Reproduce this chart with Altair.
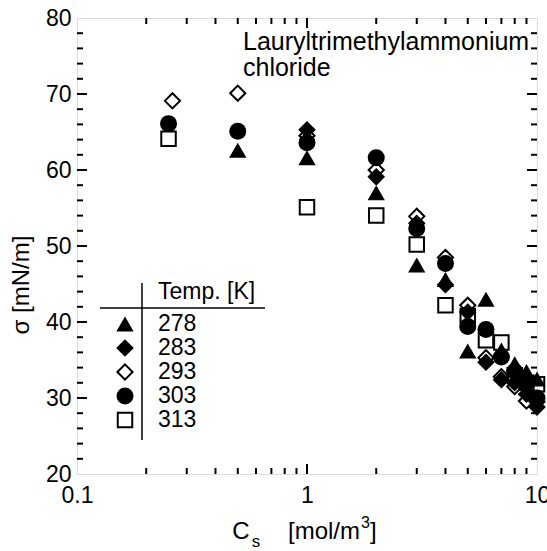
import altair as alt
import pandas as pd

# ---------------- data ----------------
temps = ["278", "283", "293", "303", "313"]

cs_278 = [0.5, 1, 2, 3, 4, 5, 6, 7, 8, 9, 10]
sg_278 = [62.6, 61.6, 57.0, 47.5, 45.6, 36.2, 43.0, 36.3, 34.5, 33.5, 32.5]

cs_283 = [1, 2, 3, 4, 5, 6, 7, 8, 9, 10]
sg_283 = [65.3, 59.1, 53.0, 44.9, 41.3, 34.7, 32.4, 32.0, 30.5, 28.8]

cs_293 = [0.26, 0.5, 1, 2, 3, 4, 5, 6, 7, 8, 9, 10]
sg_293 = [69.1, 70.1, 64.5, 60.0, 53.9, 48.5, 42.2, 35.3, 32.8, 31.5, 29.6, 29.5]

cs_303 = [0.25, 0.5, 1, 2, 3, 4, 5, 6, 7, 8, 9, 10]
sg_303 = [66.1, 65.1, 63.6, 61.6, 52.3, 47.7, 39.4, 39.0, 35.4, 33.5, 32.0, 30.0]

cs_313 = [0.25, 1, 2, 3, 4, 5, 6, 7, 8, 9, 10]
sg_313 = [64.1, 55.1, 54.0, 50.2, 42.2, 40.8, 37.6, 37.3, 33.0, 32.0, 31.8]

x_tick_labels = [0.1, 1, 10]
y_tick_labels = [20, 30, 40, 50, 60, 70, 80]
x_minor = [0.2, 0.3, 0.4, 0.5, 0.6, 0.7, 0.8, 0.9, 2, 3, 4, 5, 6, 7, 8, 9]
x_major = [1]
y_minor = [22, 24, 26, 28, 32, 34, 36, 38, 42, 44, 46, 48, 52, 54, 56, 58,
           62, 64, 66, 68, 72, 74, 76, 78]
y_major = [30, 40, 50, 60, 70]

title_line1 = "Lauryltrimethylammonium"
title_line2 = "chloride"
legend_header = "Temp. [K]"

# ---------------- layout / style ----------------
W, H = 460, 456
FONT = "Liberation Sans"

xscale = alt.Scale(type="log", domain=[0.1, 10], nice=False)
yscale = alt.Scale(domain=[20, 80], nice=False, zero=False)

xaxis = alt.Axis(values=x_tick_labels, format="~g", title=None, ticks=False,
                 domain=False, grid=False, labelFontSize=23, labelFont=FONT,
                 labelColor="black", labelPadding=10, labelFlush=False,
                 labelOverlap=False)
yaxis = alt.Axis(values=y_tick_labels, title=None, ticks=False, domain=False,
                 grid=False, labelFontSize=23, labelFont=FONT,
                 labelColor="black", labelPadding=6, labelFlush=False,
                 labelOverlap=False)

styles = {
    "278": dict(shape="triangle-up", filled=True, size=300),
    "283": dict(shape="diamond", filled=True, size=310),
    "293": dict(shape="diamond", filled=False, size=230),
    "303": dict(shape="circle", filled=True, size=290),
    "313": dict(shape="square", filled=False, size=210),
}


def point_mark(st):
    if st["filled"]:
        return dict(shape=st["shape"], filled=True, size=st["size"],
                    color="black", opacity=1)
    return dict(shape=st["shape"], filled=False, size=st["size"],
                color="black", strokeWidth=2, opacity=1)


def series_layer(xs, ys, key):
    df = pd.DataFrame({"cs": xs, "sigma": ys})
    return alt.Chart(df).mark_point(**point_mark(styles[key])).encode(
        x=alt.X("cs:Q", scale=xscale, axis=xaxis),
        y=alt.Y("sigma:Q", scale=yscale, axis=yaxis),
    )


def ytick_layer(vals, length, side):
    df = pd.DataFrame({"sigma": vals})
    x0 = 0 if side == "left" else W
    x1 = length if side == "left" else W - length
    return alt.Chart(df).mark_rule(color="black", strokeWidth=2).encode(
        y=alt.Y("sigma:Q", scale=yscale, axis=yaxis),
        y2=alt.Y2("sigma:Q"),
        x=alt.value(x0), x2=alt.value(x1))


def xtick_layer(vals, length, side):
    df = pd.DataFrame({"cs": vals})
    y0 = H if side == "bottom" else 0
    y1 = H - length if side == "bottom" else length
    return alt.Chart(df).mark_rule(color="black", strokeWidth=2).encode(
        x=alt.X("cs:Q", scale=xscale, axis=xaxis),
        x2=alt.X2("cs:Q"),
        y=alt.value(y0), y2=alt.value(y1))


def text_layer(txt, x, y, size=23, align="left", angle=0, baseline="middle"):
    kw = dict(font=FONT, fontSize=size, align=align, baseline=baseline,
              color="black")
    if angle:
        kw["angle"] = angle
    return alt.Chart(alt.Data(values=[{"t": txt}])).mark_text(**kw).encode(
        x=alt.value(x), y=alt.value(y), text="t:N")


def rule_layer(x0, y0, x1, y1, width=1.5):
    return alt.Chart(alt.Data(values=[{"a": 1}])).mark_rule(
        color="black", strokeWidth=width).encode(
        x=alt.value(x0), y=alt.value(y0), x2=alt.value(x1), y2=alt.value(y1))


def legend_symbol(key, y):
    return alt.Chart(alt.Data(values=[{"k": key}])).mark_point(
        **point_mark(styles[key])).encode(x=alt.value(48), y=alt.value(y))


layers = []
# ticks (inward, all four sides)
for side in ["left", "right"]:
    layers.append(ytick_layer(y_minor, 6, side))
    layers.append(ytick_layer(y_major, 10, side))
for side in ["bottom", "top"]:
    layers.append(xtick_layer(x_minor, 6, side))
    layers.append(xtick_layer(x_major, 10, side))

# data
layers += [
    series_layer(cs_278, sg_278, "278"),
    series_layer(cs_283, sg_283, "283"),
    series_layer(cs_303, sg_303, "303"),
    series_layer(cs_313, sg_313, "313"),
    series_layer(cs_293, sg_293, "293"),
]

# annotation
layers.append(text_layer(title_line1, 166, 24, size=25))
layers.append(text_layer(title_line2, 166, 50, size=25))

# legend table
layers.append(rule_layer(65, 265, 65, 422))
layers.append(rule_layer(23, 290, 188, 290))
layers.append(text_layer(legend_header, 81, 274, size=23))
for i, k in enumerate(temps):
    yy = 306 + 24 * i
    layers.append(legend_symbol(k, yy))
    layers.append(text_layer(k, 81, yy, size=23))

# axis titles
layers.append(text_layer("C", 164, 514, size=24, align="center"))
layers.append(text_layer("s", 179, 524, size=17, align="center"))
layers.append(text_layer("[mol/m", 211, 514, size=24))
layers.append(text_layer("3", 284, 505, size=16))
layers.append(text_layer("]", 293, 514, size=24))
layers.append(text_layer("σ   [mN/m]", -55, 267, size=24, align="center",
                         angle=270))

chart = alt.layer(*layers).properties(
    width=W, height=H,
    padding={"left": 77, "top": 18, "right": 10, "bottom": 77},
    autosize=alt.AutoSizeParams(type="none"),
).configure_view(stroke="black", strokeWidth=2).configure(background="white")

chart.save("out.html", embed_options={"renderer": "svg", "actions": False})
